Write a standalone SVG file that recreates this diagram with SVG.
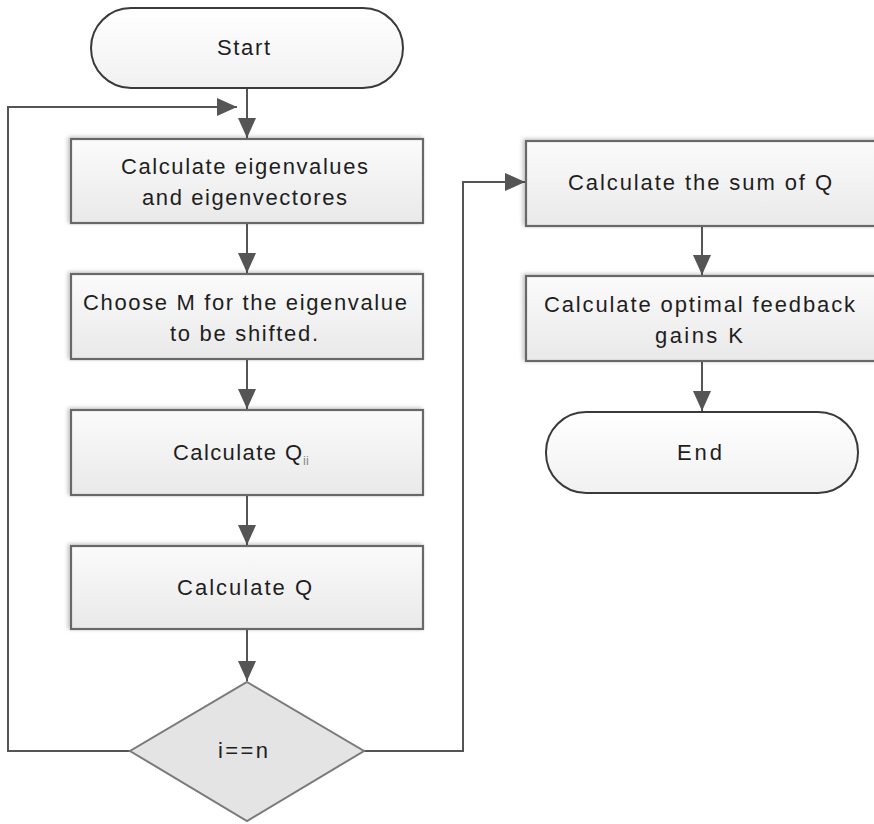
<svg xmlns="http://www.w3.org/2000/svg" width="874" height="824" viewBox="0 0 874 824">
  <style>
    .box { fill: url(#boxGrad); stroke: #686868; stroke-width: 2.2; filter: url(#shadow); }
    .term { fill: url(#termGrad); stroke: #3a3a3a; stroke-width: 2; }
    .dia { fill: #e4e4e4; stroke: #7a7a7a; stroke-width: 2; }
    .txt { font-family: "Liberation Sans", Arial, sans-serif; font-size: 22px; fill: #1e1e1e; }
    .sub { font-family: "Liberation Sans", Arial, sans-serif; font-size: 13px; fill: #8a8a8a; }
    .conn { fill: none; stroke: #555555; stroke-width: 2; }
  </style>
  <defs>
    <linearGradient id="boxGrad" x1="0" y1="0" x2="0" y2="1">
      <stop offset="0" stop-color="#fbfbfb"/>
      <stop offset="1" stop-color="#e9e9e9"/>
    </linearGradient>
    <linearGradient id="termGrad" x1="0" y1="0" x2="0" y2="1">
      <stop offset="0" stop-color="#ffffff"/>
      <stop offset="1" stop-color="#f1f1f1"/>
    </linearGradient>
    <filter id="shadow" x="-5%" y="-10%" width="110%" height="120%">
      <feGaussianBlur in="SourceAlpha" stdDeviation="2"/>
      <feOffset dx="-2" dy="-1" result="b"/>
      <feComponentTransfer><feFuncA type="linear" slope="0.25"/></feComponentTransfer>
      <feMerge><feMergeNode/><feMergeNode in="SourceGraphic"/></feMerge>
    </filter>
    <marker id="arrow" markerWidth="10" markerHeight="9" refX="10" refY="4.5" orient="auto" markerUnits="strokeWidth">
      <path d="M0,0 L10,4.5 L0,9 Z" fill="#555555"/>
    </marker>
  </defs>
  <rect width="874" height="824" fill="#ffffff"/>

  <g id="connectors">
    <line class="conn" x1="247" y1="88" x2="247" y2="138" marker-end="url(#arrow)"/>
    <path class="conn" d="M130,751 H8 V107 H237" marker-end="url(#arrow)"/>
    <line class="conn" x1="247" y1="223" x2="247" y2="273" marker-end="url(#arrow)"/>
    <line class="conn" x1="247" y1="359" x2="247" y2="409" marker-end="url(#arrow)"/>
    <line class="conn" x1="247" y1="495" x2="247" y2="545" marker-end="url(#arrow)"/>
    <line class="conn" x1="247" y1="629" x2="247" y2="681" marker-end="url(#arrow)"/>
    <path class="conn" d="M364,751 H463 V182 H525" marker-end="url(#arrow)"/>
    <line class="conn" x1="702" y1="226" x2="702" y2="275" marker-end="url(#arrow)"/>
    <line class="conn" x1="702" y1="361" x2="702" y2="411" marker-end="url(#arrow)"/>
  </g>

  <g id="start">
    <rect class="term" x="91" y="8" width="312" height="80" rx="40" ry="40"/>
    <text class="txt" x="217" y="55" textLength="53" lengthAdjust="spacing">Start</text>
  </g>

  <g id="eigen">
    <rect class="box" x="71" y="139" width="352" height="84"/>
    <text class="txt" x="121" y="174" textLength="247" lengthAdjust="spacing">Calculate eigenvalues</text>
    <text class="txt" x="142" y="205" textLength="205" lengthAdjust="spacing">and eigenvectores</text>
  </g>

  <g id="chooseM">
    <rect class="box" x="71" y="274" width="352" height="85"/>
    <text class="txt" x="83" y="310" textLength="324" lengthAdjust="spacing">Choose M for the eigenvalue</text>
    <text class="txt" x="170" y="341" textLength="148" lengthAdjust="spacing">to be shifted.</text>
  </g>

  <g id="calcQii">
    <rect class="box" x="71" y="410" width="352" height="85"/>
    <text class="txt" x="173" y="460" textLength="129" lengthAdjust="spacing">Calculate Q</text>
    <text class="sub" x="303" y="465">ii</text>
  </g>

  <g id="calcQ">
    <rect class="box" x="71" y="546" width="352" height="83"/>
    <text class="txt" x="177" y="595" textLength="135" lengthAdjust="spacing">Calculate Q</text>
  </g>

  <g id="decision">
    <polygon class="dia" points="247,682 364,751 247,821 130,751"/>
    <text class="txt" x="218" y="758" textLength="50" lengthAdjust="spacing">i==n</text>
  </g>

  <g id="sumQ">
    <rect class="box" x="526" y="141" width="352" height="85"/>
    <text class="txt" x="568" y="190" textLength="264" lengthAdjust="spacing">Calculate the sum of Q</text>
  </g>

  <g id="gainsK">
    <rect class="box" x="526" y="276" width="352" height="85"/>
    <text class="txt" x="544" y="312" textLength="311" lengthAdjust="spacing">Calculate optimal feedback</text>
    <text class="txt" x="655" y="343" textLength="88" lengthAdjust="spacing">gains K</text>
  </g>

  <g id="end">
    <rect class="term" x="546" y="412" width="312" height="81" rx="40" ry="40"/>
    <text class="txt" x="677" y="460" textLength="45" lengthAdjust="spacing">End</text>
  </g>
</svg>
